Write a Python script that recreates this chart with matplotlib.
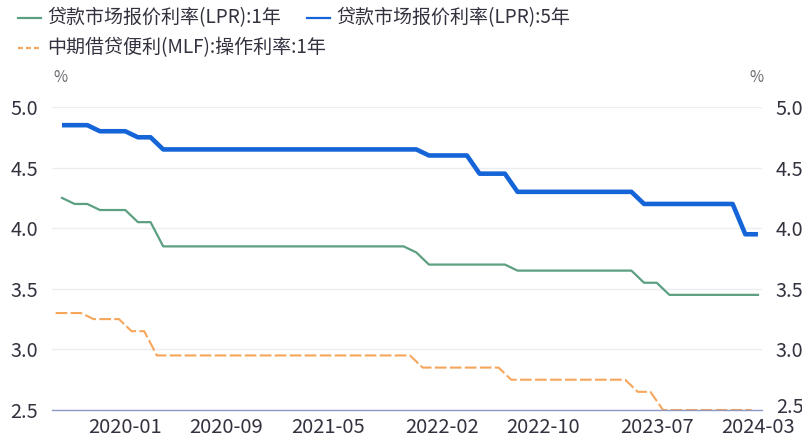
import matplotlib
matplotlib.use('Agg')
import matplotlib.pyplot as plt
import matplotlib.transforms as mtransforms
from matplotlib.lines import Line2D
import pandas as pd

plt.rcParams['font.family'] = ['Noto Sans CJK SC', 'DejaVu Sans']

# monthly observations, 2019-08 .. 2024-03
months = pd.date_range('2019-08-01', '2024-03-01', freq='MS').strftime('%Y-%m').tolist()

lpr_1y = ([4.25, 4.20, 4.20, 4.15, 4.15, 4.15, 4.05, 4.05]
          + [3.85] * 20 + [3.80] + [3.70] * 7 + [3.65] * 10
          + [3.55] * 2 + [3.45] * 8)
lpr_5y = ([4.85, 4.85, 4.85, 4.80, 4.80, 4.80, 4.75, 4.75]
          + [4.65] * 21 + [4.60] * 4 + [4.45] * 3 + [4.30] * 10
          + [4.20] * 8 + [3.95] * 2)
mlf_1y = ([3.30, 3.30, 3.30, 3.25, 3.25, 3.25, 3.15, 3.15]
          + [2.95] * 21 + [2.85] * 7 + [2.75] * 10
          + [2.65] * 2 + [2.50] * 8)

tick_months = ['2020-01', '2020-09', '2021-05', '2022-02', '2022-10', '2023-07', '2024-03']
y_ticks = [2.5, 3.0, 3.5, 4.0, 4.5, 5.0]

label_1y = '贷款市场报价利率(LPR):1年'
label_5y = '贷款市场报价利率(LPR):5年'
label_mlf = '中期借贷便利(MLF):操作利率:1年'

c_green = '#5c9f81'
c_blue = '#1565d8'
c_orange = '#f5a65b'
c_text = '#333340'

x_lpr = list(range(len(months)))          # LPR fixed on the 20th
x_mlf = [i - 0.5 for i in x_lpr]          # MLF operations mid-month, a bit earlier

W, H = 803, 437
fig = plt.figure(figsize=(W / 100, H / 100), dpi=100)
ax = fig.add_axes([52 / W, 1 - 410 / H, 710 / W, 303 / H])

ax.plot(x_lpr, lpr_1y, color=c_green, lw=1.6, solid_joinstyle='round')
ax.plot(x_lpr, lpr_5y, color=c_blue, lw=3.3, solid_joinstyle='round', solid_capstyle='butt')
ax.plot(x_mlf, mlf_1y, color=c_orange, lw=1.5, dashes=(5.6, 1.6))

ax.set_xlim(-0.79, 55.32)
ax.set_ylim(2.5, 5.0)
ax.set_yticks(y_ticks)
ax.set_yticklabels([f'{v:.1f}' for v in y_ticks])
ax.set_xticks([months.index(m) for m in tick_months])
ax.set_xticklabels(tick_months)

ax.tick_params(axis='y', length=0, pad=10, labelsize=14.3, labelcolor=c_text,
               labelleft=True, labelright=True)
ax.tick_params(axis='x', length=0, pad=5, labelsize=14.5, labelcolor=c_text)
ax.grid(axis='y', color='#ececf3', lw=1)
ax.set_axisbelow(True)
for s in ['top', 'left', 'right']:
    ax.spines[s].set_visible(False)
ax.spines['bottom'].set_color('#8f9ac4')
ax.spines['bottom'].set_linewidth(1)

# right-hand "2.5" sits a little higher so it clears the last date label
lab = ax.yaxis.get_major_ticks()[0].label2
lab.set_transform(mtransforms.offset_copy(lab.get_transform(), fig=fig, x=0, y=5, units='dots'))

fig.text(60 / W, 1 - 77 / H, '%', fontsize=11, color='#666670', ha='center', va='center')
fig.text(756 / W, 1 - 77 / H, '%', fontsize=11, color='#666670', ha='center', va='center')

# legend laid out in a flowing row like the original
entries = [(label_1y, c_green, 18, 18, {}),
           (label_5y, c_blue, 307, 18, {}),
           (label_mlf, c_orange, 18, 48, {'dashes': (2.2, 1.4)})]
for text, col, x0, y0, style in entries:
    fig.add_artist(Line2D([x0 / W, (x0 + 23) / W], [1 - y0 / H, 1 - y0 / H],
                          transform=fig.transFigure, color=col, lw=1.6, **style))
    fig.text((x0 + 29) / W, 1 - y0 / H, text, fontsize=13.7, color=c_text,
             ha='left', va='center')

fig.savefig('out.png', dpi=100)
